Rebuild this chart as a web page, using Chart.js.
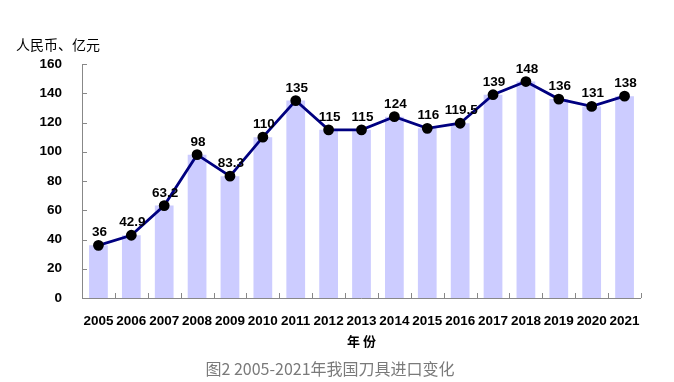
<!DOCTYPE html>
<html><head><meta charset="utf-8">
<script src="https://cdn.jsdelivr.net/npm/chart.js@4/dist/chart.umd.min.js"></script>
<style>
html,body{margin:0;padding:0;background:#fff;}
#wrap{position:relative;width:674px;height:382px;}
#c{position:absolute;left:0;top:0;}
#ytitle{position:absolute;left:16px;top:34px;font:14px "Noto Sans CJK SC",sans-serif;color:#000;}
#cap{position:absolute;left:0;width:660px;top:356px;text-align:center;font:16px "Noto Sans CJK SC",sans-serif;color:#7a7a7a;}
</style></head><body>
<div id="wrap"><canvas id="c" width="674" height="382"></canvas>
<div id="ytitle">人民币、亿元</div>
<div id="cap">图2 2005-2021年我国刀具进口变化</div></div>
<script>
const years = ['2005','2006','2007','2008','2009','2010','2011','2012','2013','2014','2015','2016','2017','2018','2019','2020','2021'];
const values = [36, 42.9, 63.2, 98, 83.3, 110, 135, 115, 115, 124, 116, 119.5, 139, 148, 136, 131, 138];
const yTicks = [0,20,40,60,80,100,120,140,160];

const innerTicks = {
  id:'innerTicks',
  afterDraw(chart){
    const ctx=chart.ctx, x=chart.scales.x, y=chart.scales.y;
    const step = x.getPixelForValue(1)-x.getPixelForValue(0);
    ctx.save(); ctx.strokeStyle='#888'; ctx.lineWidth=1;
    ctx.beginPath();
    ctx.moveTo(x.left+0.5, y.top); ctx.lineTo(x.left+0.5, y.bottom+0.5); ctx.lineTo(x.right, y.bottom+0.5);
    yTicks.forEach(v=>{const py=Math.round(y.getPixelForValue(v))+0.5; ctx.moveTo(x.left, py); ctx.lineTo(x.left+5, py);});
    for(let i=0;i<years.length;i++){const px=Math.round(x.getPixelForValue(i)+step/2)+0.5; ctx.moveTo(px,y.bottom); ctx.lineTo(px,y.bottom-5);}
    ctx.stroke(); ctx.restore();
  }
};
const labelsPlugin = {
  id:'ptLabels',
  afterDatasetsDraw(chart){
    const ctx=chart.ctx, meta=chart.getDatasetMeta(0);
    ctx.save(); ctx.font='bold 13.5px "Liberation Sans", Arial, sans-serif'; ctx.fillStyle='#000';
    ctx.textAlign='center'; ctx.textBaseline='bottom';
    meta.data.forEach((p,i)=>{ ctx.fillText(String(values[i]), p.x+1, p.y-6); });
    ctx.restore();
  }
};
new Chart(document.getElementById('c'),{
  data:{labels:years,datasets:[
    {type:'line',data:values,borderColor:'#000080',borderWidth:2.8,pointBackgroundColor:'#000',pointBorderColor:'#000',pointRadius:4,tension:0,order:0},
    {type:'bar',data:values,backgroundColor:'#CCCCFF',barPercentage:0.57,categoryPercentage:1,order:1}
  ]},
  options:{
    responsive:false,animation:false,
    layout:{padding:{left:0,right:33,top:64,bottom:29}},
    plugins:{legend:{display:false},tooltip:{enabled:false}},
    scales:{
      x:{offset:true,grid:{display:false},border:{display:false},
        ticks:{padding:7,maxRotation:0,autoSkip:false,color:'#000',font:{family:'"Liberation Sans", Arial, sans-serif',size:13.5,weight:'bold'}},
        title:{display:true,text:'年 份',color:'#000',font:{family:'"Noto Sans CJK SC",sans-serif',size:13,weight:'bold'}},
        afterFit(s){s.height=55;}},
      y:{min:0,max:160,grid:{display:false},border:{display:false},
        afterBuildTicks(s){s.ticks=yTicks.map(v=>({value:v}));},
        ticks:{padding:12,color:'#000',font:{family:'"Liberation Sans", Arial, sans-serif',size:13.5,weight:'bold'}},
        afterFit(s){s.width=82;}}
    }
  },
  plugins:[innerTicks,labelsPlugin]
});
</script></body></html>
